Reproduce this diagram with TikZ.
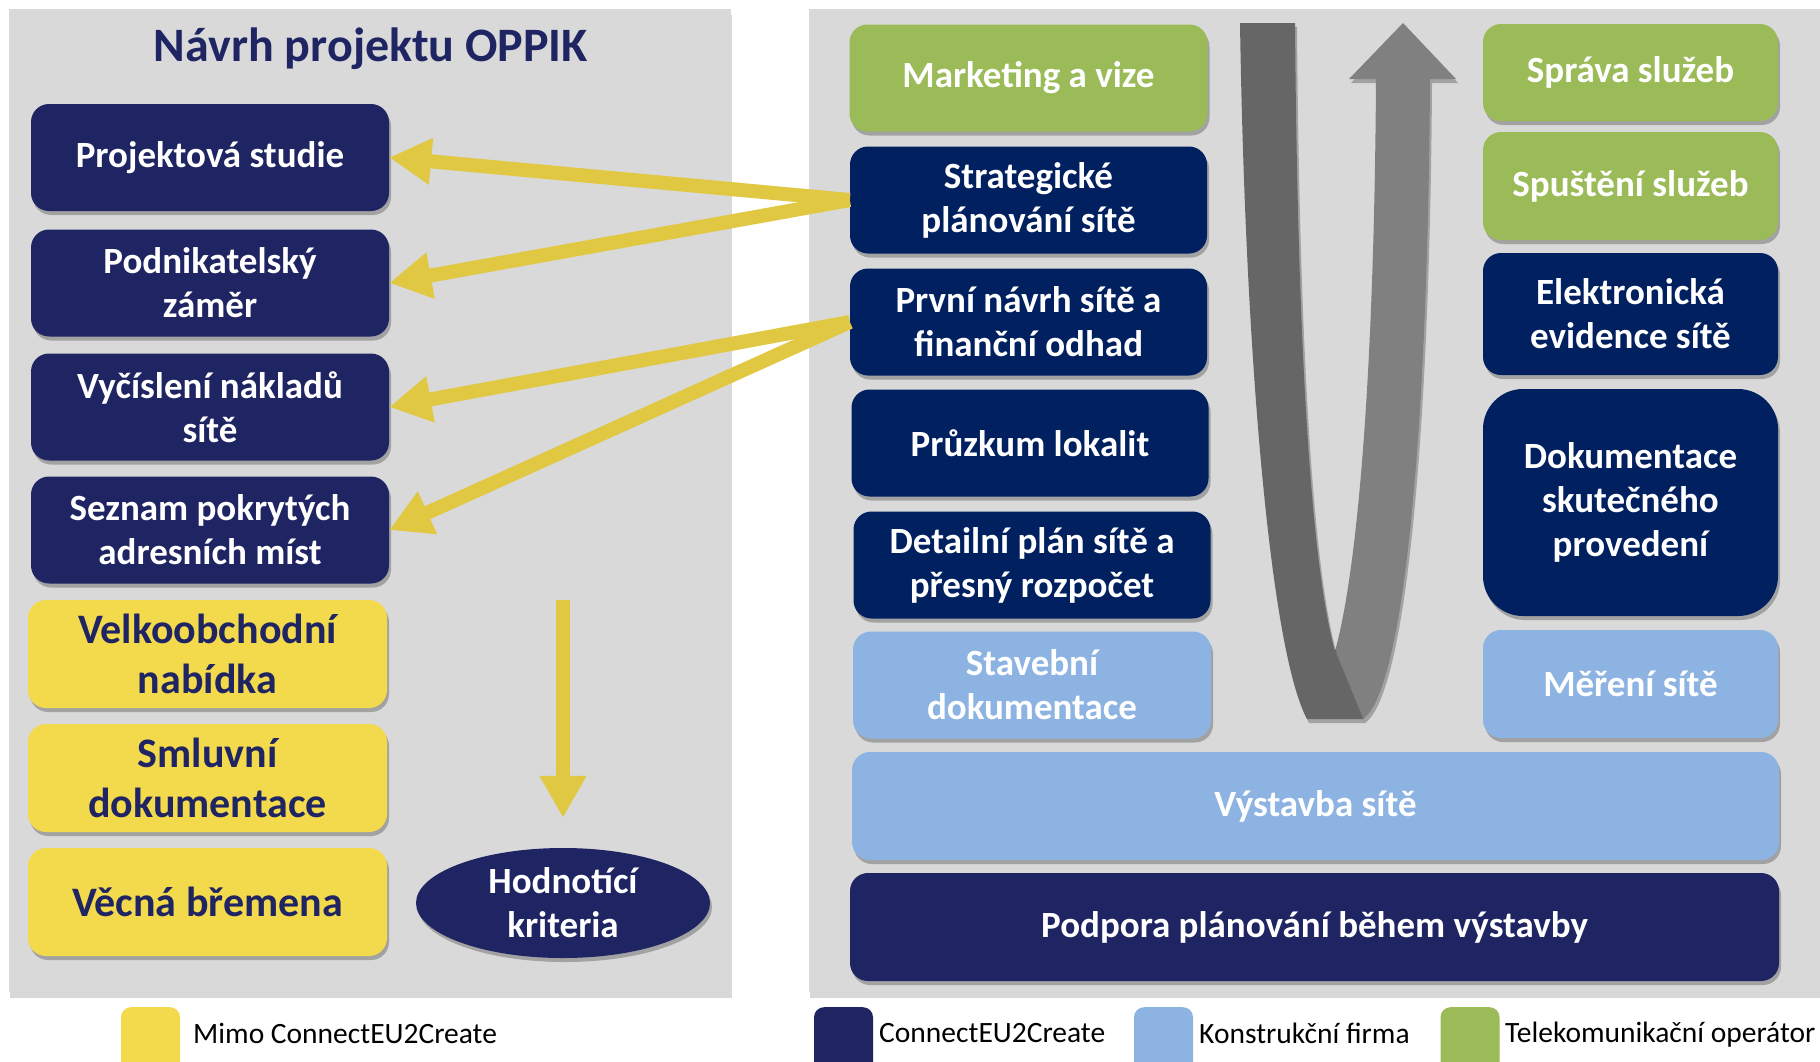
\documentclass[tikz,border=0pt]{standalone}
\usepackage{fontspec}
\setmainfont{Carlito}
\usetikzlibrary{arrows.meta,shadows,shapes.geometric}
\definecolor{navyL}{HTML}{1F2462}
\definecolor{navyR}{HTML}{002060}
\definecolor{grn}{HTML}{9BBB59}
\definecolor{ltblue}{HTML}{8DB3E2}
\definecolor{ylw}{HTML}{F3DA4C}
\definecolor{arrowylw}{HTML}{E1C843}
\definecolor{panel}{HTML}{D9D9D9}
\tikzset{
  softshadow/.style={drop shadow={shadow xshift=2pt, shadow yshift=-4pt, opacity=0.25, fill=black}},
  box/.style={rounded corners=18pt, minimum width=358pt, minimum height=107pt, inner sep=0pt,
    align=center, text=white, font=\bfseries\fontsize{37}{44}\selectfont, softshadow},
  lbox/.style={box, fill=navyL},
  rbox/.style={box, fill=navyR, minimum width=357pt},
  ybox/.style={box, fill=ylw, text=navyL, minimum width=359pt, minimum height=108pt,
    font=\bfseries\fontsize{42}{50}\selectfont},
  gbox/.style={box, fill=grn},
  bbox/.style={box, fill=ltblue},
  yarrow/.style={arrowylw, line width=14pt, -{Triangle[width=44pt,length=42pt]}},
  swatch/.style={rounded corners=10pt, minimum width=59pt, minimum height=70pt, anchor=north, inner sep=0pt},
  legtext/.style={anchor=west, font=\fontsize{29.5}{31}\selectfont, inner sep=0pt}
}
\begin{document}
\begin{tikzpicture}[x=1pt,y=-1pt]
  \clip (0,0) rectangle (1820,1061);
  \fill[white] (0,0) rectangle (1820,1061);
  % panels
  \fill[panel, drop shadow={shadow xshift=1pt, shadow yshift=-6pt, opacity=0.3}] (9,9) rectangle (731,992);
  \fill[panel, drop shadow={shadow xshift=1pt, shadow yshift=-6pt, opacity=0.3}] (809,9) rectangle (1840,992);
  % left panel
  \node[font=\bfseries\fontsize{48}{50}\selectfont, text=navyL] (title) at (371,49) {Návrh projektu OPPIK};
  \node[lbox] (ps) at (210,157.5) {Projektová studie};
  \node[lbox] (pz) at (210,283) {Podnikatelský\\záměr};
  \node[lbox] (vn) at (210,407) {Vyčíslení nákladů\\sítě};
  \node[lbox] (sp) at (210,530) {Seznam pokrytých\\adresních míst};
  \node[ybox] (vo) at (207.5,654) {Velkoobchodní\\nabídka};
  \node[ybox] (sd) at (207.5,778) {Smluvní\\dokumentace};
  \node[ybox] (vb) at (207.5,902) {Věcná břemena};
  \node[lbox, ellipse, minimum width=294pt, minimum height=110pt] (hk) at (563,903) {Hodnotící\\kriteria};
  \coordinate (ya) at (563,600);
  \draw[yarrow, shorten >=30pt] (ya) -- (hk.north);
  % right panel, first column
  \node[gbox] (mv) at (1028.5,78) {Marketing a vize};
  \node[rbox] (spl) at (1028.5,200) {Strategické\\plánování sítě};
  \node[rbox] (pn) at (1028.5,322) {První návrh sítě a\\finanční odhad};
  \node[rbox] (pl) at (1030,443) {Průzkum lokalit};
  \node[rbox] (dp) at (1032,565) {Detailní plán sítě a\\přesný rozpočet};
  \node[bbox] (stav) at (1032,685) {Stavební\\dokumentace};
  \node[bbox, minimum width=927pt, minimum height=108pt] (vs) at (1315.5,806) {Výstavba sítě};
  \node[lbox, minimum width=929pt, minimum height=108pt] (ppv) at (1314.5,927) {Podpora plánování během výstavby};
  % right panel, second column
  \node[gbox, minimum width=295pt, minimum height=97pt] (sluz) at (1630.5,72.5) {Správa služeb};
  \node[gbox, minimum width=295pt, minimum height=108pt] (spus) at (1630.5,186) {Spuštění služeb};
  \node[rbox, minimum width=295pt, minimum height=122pt] (ev) at (1630.5,314) {Elektronická\\evidence sítě};
  \node[rbox, minimum width=295pt, minimum height=227pt, rounded corners=40pt] (dok) at (1630.5,502.5) {Dokumentace\\skutečného\\provedení};
  \node[bbox, minimum width=295pt, minimum height=108pt] (mer) at (1630.5,684) {Měření sítě};
  % U arrow
  \fill[black!50, softshadow] (1376,79) -- (1349,79) -- (1403,23) -- (1456,79) -- (1430,79)
    .. controls (1428,420) and (1405,690) .. (1363,719) -- (1335,651)
    .. controls (1355,580) and (1374,400) .. (1376,79) -- cycle;
  \fill[black!60, softshadow] (1240,23) -- (1295,23) .. controls (1298,400) and (1315,580) .. (1335,651)
    -- (1363,719) -- (1307,719) .. controls (1270,650) and (1245,350) .. (1240,23) -- cycle;
  % yellow arrows
  \draw[yarrow] (spl.west) -- (ps.east);
  \draw[yarrow] (spl.west) -- (pz.east);
  \draw[yarrow] (pn.west) -- (vn.east);
  \draw[yarrow] (pn.west) -- (sp.east);
  % legend
  \node[swatch, fill=ylw] (lgy) at (150.5,1007) {};
  \node[legtext] (lgyt) at (193,1033) {Mimo ConnectEU2Create};
  \node[swatch, fill=navyL] (lgn) at (843.5,1007) {};
  \node[legtext] (lgnt) at (879,1033) {ConnectEU2Create};
  \node[swatch, fill=ltblue] (lgb) at (1163.5,1007) {};
  \node[legtext] (lgbt) at (1199,1033) {Konstrukční firma};
  \node[swatch, fill=grn] (lgg) at (1470,1007) {};
  \node[legtext] (lggt) at (1505,1035) {Telekomunikační operátor};
\end{tikzpicture}
\end{document}
